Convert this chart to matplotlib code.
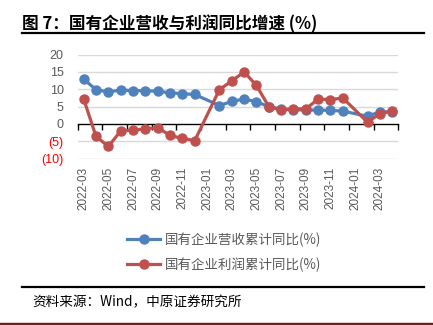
import matplotlib.pyplot as plt
from matplotlib.lines import Line2D
from matplotlib.ticker import FixedLocator, FuncFormatter

plt.rcParams['font.family'] = ['Liberation Sans', 'Noto Sans CJK SC', 'DejaVu Sans']

# 数据（月度累计同比，1月无单独数据）
months = ["2022-03", "2022-04", "2022-05", "2022-06", "2022-07", "2022-08",
          "2022-09", "2022-10", "2022-11", "2022-12",
          "2023-02", "2023-03", "2023-04", "2023-05", "2023-06", "2023-07",
          "2023-08", "2023-09", "2023-10", "2023-11", "2023-12",
          "2024-02", "2024-03", "2024-04"]
revenue = [12.9, 9.9, 9.2, 9.8, 9.6, 9.6, 9.4, 9.0, 8.7, 8.5,
           5.3, 6.5, 7.2, 6.4, 5.0, 4.3, 4.1, 4.0, 4.0, 3.9, 3.7,
           2.2, 3.5, 3.3]
profit = [7.2, -3.6, -6.5, -2.0, -1.8, -1.4, -1.1, -3.3, -4.2, -4.8,
          9.9, 12.4, 15.0, 11.1, 5.0, 4.0, 4.4, 4.3, 7.2, 7.0, 7.5,
          0.5, 3.0, 3.8]
tick_labels = ["2022-03", "2022-05", "2022-07", "2022-09", "2022-11",
               "2023-01", "2023-03", "2023-05", "2023-07", "2023-09",
               "2023-11", "2024-01", "2024-03"]
yticks = [-10, -5, 0, 5, 10, 15, 20]


def month_index(m):
    return (int(m[:4]) - 2022) * 12 + int(m[5:]) - 3


x = [month_index(m) for m in months]
xt = [month_index(m) for m in tick_labels]

blue = "#4F81BD"
red = "#C0504D"
gray = "#595959"

fig = plt.figure(figsize=(4.33, 3.25), dpi=100)
ax = fig.add_axes([0.179, 0.512, 0.741, 0.320])

for v in yticks:
    if v != 0:
        ax.axhline(v, color="#D9D9D9", lw=1.0, zorder=0)

ax.plot(x, revenue, color=blue, lw=2.3, marker="o", ms=6.5,
        label="国有企业营收累计同比(%)", zorder=3)
ax.plot(x, profit, color=red, lw=2.3, marker="o", ms=6.5,
        label="国有企业利润累计同比(%)", zorder=4)

ax.set_xlim(-0.5, 25.5)
ax.set_ylim(-10, 20)

for s in ["top", "right", "left"]:
    ax.spines[s].set_visible(False)
ax.spines["bottom"].set_position(("data", 0))
ax.spines["bottom"].set_color("black")
ax.spines["bottom"].set_linewidth(1.0)

ax.xaxis.set_major_locator(FixedLocator(xt))
ax.set_xticklabels(tick_labels, rotation=90, fontsize=8.5, color=gray)
ax.tick_params(axis="x", which="major", length=0, pad=31)
ax.xaxis.set_minor_locator(FixedLocator([t - 0.5 for t in xt] + [25.5]))
ax.tick_params(axis="x", which="minor", length=4, width=1.0, color="black",
               direction="out")

ax.set_yticks(yticks)
ax.yaxis.set_major_formatter(FuncFormatter(
    lambda v, p: f"({abs(int(v))})" if v < 0 else f"{int(v)}"))
ax.tick_params(axis="y", length=0, labelsize=9, pad=10)
for lab, v in zip(ax.get_yticklabels(), yticks):
    lab.set_color("red" if v < 0 else gray)

leg = fig.legend(loc="center", bbox_to_anchor=(0.517, 0.224), ncol=1,
                 frameon=False, handlelength=2.5, labelspacing=0.75,
                 handletextpad=0.3,
                 prop={"family": ["Noto Sans CJK SC"], "size": 9.7})
for t in leg.get_texts():
    t.set_color(gray)

# 标题与装饰线
fig.text(0.051, 0.925, "图 7：国有企业营收与利润同比增速 (%)", fontsize=12,
         fontweight="bold", family=["Noto Sans CJK SC", "DejaVu Sans"],
         va="center", ha="left")
fig.add_artist(Line2D([0.051, 0.979], [0.897, 0.897], color="black", lw=1.6))
fig.add_artist(Line2D([0.051, 0.979], [0.118, 0.118], color="black", lw=1.6))
fig.text(0.074, 0.071, "资料来源：Wind，中原证券研究所", fontsize=9.8,
         family=["Noto Sans CJK SC", "DejaVu Sans"], va="center", ha="left")
fig.add_artist(Line2D([0, 1], [0.004, 0.004], color="#7B1A1A", lw=2.5))

fig.savefig("out.png", dpi=100)
